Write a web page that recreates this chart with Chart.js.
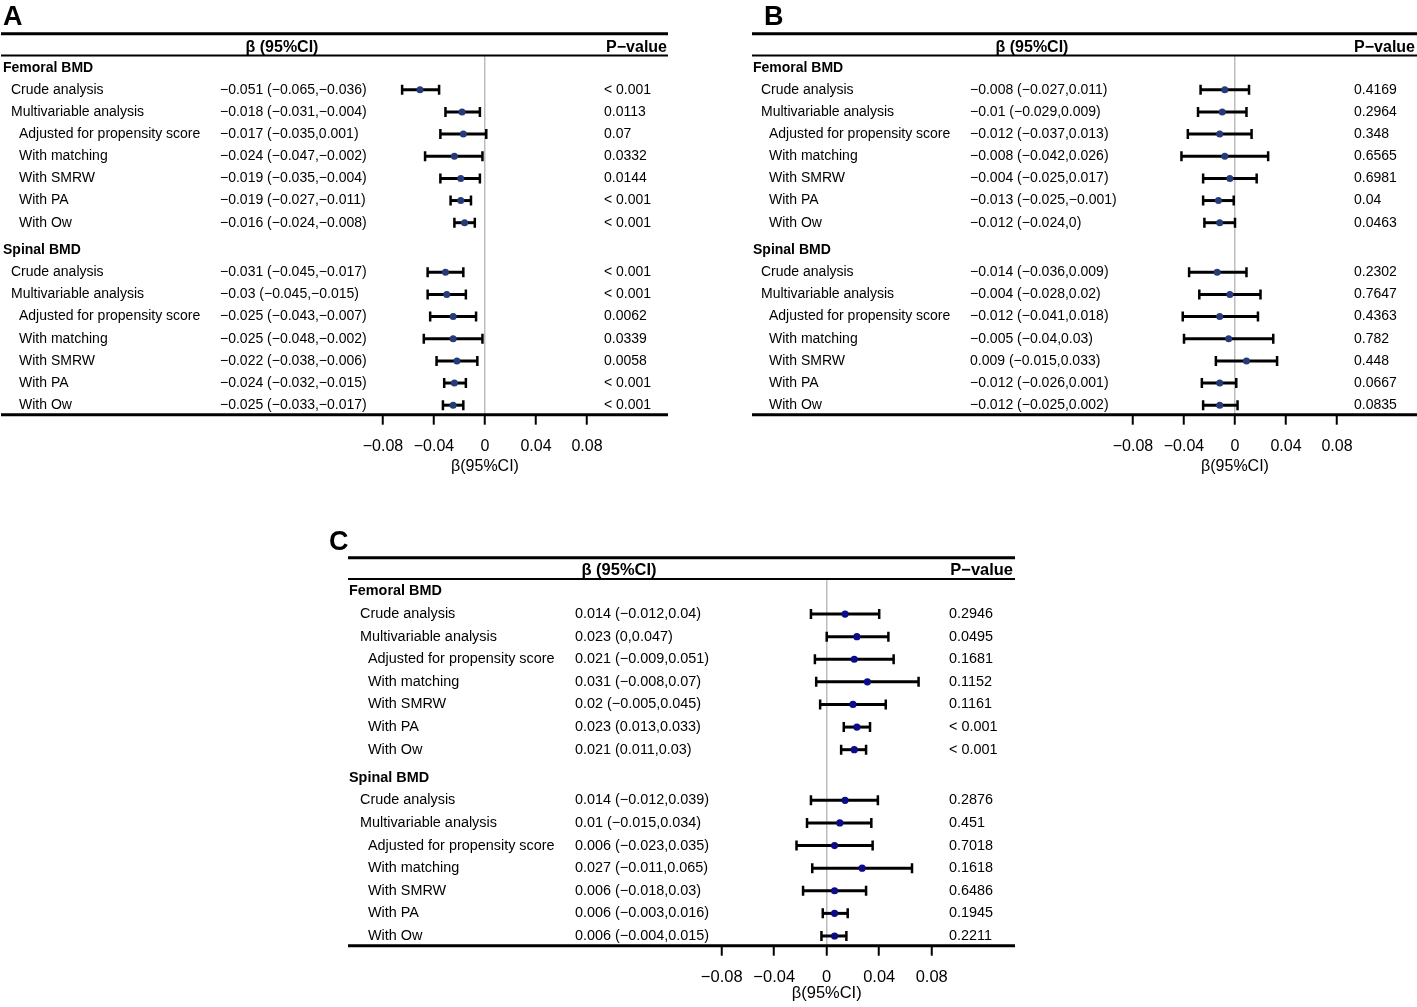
<!DOCTYPE html>
<html>
<head>
<meta charset="utf-8">
<script src="https://cdn.jsdelivr.net/npm/chart.js@4.4.0/dist/chart.umd.min.js"></script>
<style>
  html, body { margin: 0; padding: 0; background: #fff; }
  #page { position: relative; width: 1417px; height: 1007px; overflow: hidden; }
  .panel { position: absolute; }
</style>
</head>
<body>
<div id="page">
  <div class="panel" style="left:0;top:0;width:700px;height:490px"><canvas id="chartA"></canvas></div>
  <div class="panel" style="left:750px;top:0;width:667px;height:490px"><canvas id="chartB"></canvas></div>
  <div class="panel" style="left:320px;top:520px;width:720px;height:487px"><canvas id="chartC"></canvas></div>
</div>
<script>
// ---- data ----
const GROUPS = ["Femoral BMD", "Spinal BMD"];
const ROWS = ["Crude analysis", "Multivariable analysis", "Adjusted for propensity score",
  "With matching", "With SMRW", "With PA", "With Ow"];
const ROW_INDENT = [1, 1, 2, 2, 2, 2, 2];
const TICKS = [-0.08, -0.04, 0, 0.04, 0.08];
const TICK_LABELS = ["\u22120.08", "\u22120.04", "0", "0.04", "0.08"];
const AXIS_TITLE = "\u03b2(95%CI)";
const COL_HEADERS = ["\u03b2 (95%CI)", "P\u2212value"];

// panel A (femoral rows then spinal rows)
const A_BETA = [-0.051, -0.018, -0.017, -0.024, -0.019, -0.019, -0.016,
  -0.031, -0.03, -0.025, -0.025, -0.022, -0.024, -0.025];
const A_LOW = [-0.065, -0.031, -0.035, -0.047, -0.035, -0.027, -0.024,
  -0.045, -0.045, -0.043, -0.048, -0.038, -0.032, -0.033];
const A_HIGH = [-0.036, -0.004, 0.001, -0.002, -0.004, -0.011, -0.008,
  -0.017, -0.015, -0.007, -0.002, -0.006, -0.015, -0.017];
const A_P = ["< 0.001", "0.0113", "0.07", "0.0332", "0.0144", "< 0.001", "< 0.001",
  "< 0.001", "< 0.001", "0.0062", "0.0339", "0.0058", "< 0.001", "< 0.001"];

// panel B
const B_BETA = [-0.008, -0.01, -0.012, -0.008, -0.004, -0.013, -0.012,
  -0.014, -0.004, -0.012, -0.005, 0.009, -0.012, -0.012];
const B_LOW = [-0.027, -0.029, -0.037, -0.042, -0.025, -0.025, -0.024,
  -0.036, -0.028, -0.041, -0.04, -0.015, -0.026, -0.025];
const B_HIGH = [0.011, 0.009, 0.013, 0.026, 0.017, -0.001, 0,
  0.009, 0.02, 0.018, 0.03, 0.033, 0.001, 0.002];
const B_P = ["0.4169", "0.2964", "0.348", "0.6565", "0.6981", "0.04", "0.0463",
  "0.2302", "0.7647", "0.4363", "0.782", "0.448", "0.0667", "0.0835"];

// panel C
const C_BETA = [0.014, 0.023, 0.021, 0.031, 0.02, 0.023, 0.021,
  0.014, 0.01, 0.006, 0.027, 0.006, 0.006, 0.006];
const C_LOW = [-0.012, 0, -0.009, -0.008, -0.005, 0.013, 0.011,
  -0.012, -0.015, -0.023, -0.011, -0.018, -0.003, -0.004];
const C_HIGH = [0.04, 0.047, 0.051, 0.07, 0.045, 0.033, 0.03,
  0.039, 0.034, 0.035, 0.065, 0.03, 0.016, 0.015];
const C_P = ["0.2946", "0.0495", "0.1681", "0.1152", "0.1161", "< 0.001", "< 0.001",
  "0.2876", "0.451", "0.7018", "0.1618", "0.6486", "0.1945", "0.2211"];

// ---- layout ----
const FONT = "'Liberation Sans', Arial, Helvetica, sans-serif";
const GROUP_GAP = 0.24;

// row index on the y scale: header of group g, or item i of group g
function rowPos(g, i) {
  return g * (ROWS.length + 1 + GROUP_GAP) + (i < 0 ? 0 : i + 1);
}

function fmt(v) {
  return String(v).replace("-", "\u2212");
}

const forestPlugin = {
  id: "forest",
  beforeDatasetsDraw(chart, args, o) {
    const { ctx, scales: { x, y } } = chart;
    ctx.save();
    ctx.strokeStyle = "#000";
    o.low.forEach((lo, k) => {
      const py = y.getPixelForValue(rowPos(Math.floor(k / ROWS.length), k % ROWS.length));
      const x1 = x.getPixelForValue(lo);
      const x2 = x.getPixelForValue(o.high[k]);
      ctx.lineWidth = 3;
      ctx.beginPath();
      ctx.moveTo(x1, py); ctx.lineTo(x2, py);
      ctx.stroke();
      ctx.lineWidth = 2.5;
      ctx.beginPath();
      ctx.moveTo(x1, py - 5); ctx.lineTo(x1, py + 5);
      ctx.moveTo(x2, py - 5); ctx.lineTo(x2, py + 5);
      ctx.stroke();
    });
    ctx.restore();
  },
  afterDraw(chart, args, o) {
    const { ctx, chartArea, scales: { y } } = chart;
    const L = o.layout;
    const s = L.scale;
    ctx.save();
    ctx.fillStyle = "#000";
    ctx.strokeStyle = "#000";

    // rules
    ctx.lineWidth = 3;
    ctx.beginPath();
    ctx.moveTo(L.ruleLeft, L.ruleTop); ctx.lineTo(L.ruleRight, L.ruleTop);
    ctx.moveTo(L.ruleLeft, chartArea.bottom); ctx.lineTo(L.ruleRight, chartArea.bottom);
    ctx.stroke();
    ctx.lineWidth = 2;
    ctx.beginPath();
    ctx.moveTo(L.ruleLeft, chartArea.top); ctx.lineTo(L.ruleRight, chartArea.top);
    ctx.stroke();

    // panel letter
    ctx.font = "bold " + L.letterSize + "px " + FONT;
    ctx.textBaseline = "alphabetic";
    ctx.textAlign = "left";
    ctx.fillText(L.letter, L.letterX, L.letterY);

    // column headers
    ctx.font = "bold " + (16 * s) + "px " + FONT;
    ctx.textAlign = "center";
    ctx.fillText(COL_HEADERS[0], L.xHeadBeta, chartArea.top - 4);
    ctx.textAlign = "right";
    ctx.fillText(COL_HEADERS[1], L.xHeadP, chartArea.top - 4);

    // rows
    ctx.textBaseline = "middle";
    ctx.textAlign = "left";
    GROUPS.forEach((gName, g) => {
      ctx.font = "bold " + (14 * s) + "px " + FONT;
      ctx.fillText(gName, L.xGroup, y.getPixelForValue(rowPos(g, -1)));
      ctx.font = (14 * s) + "px " + FONT;
      ROWS.forEach((r, i) => {
        const k = g * ROWS.length + i;
        const py = y.getPixelForValue(rowPos(g, i));
        ctx.fillText(r, L.xLevel[ROW_INDENT[i] - 1], py);
        ctx.fillText(fmt(o.beta[k]) + " (" + fmt(o.low[k]) + "," + fmt(o.high[k]) + ")", L.xBeta, py);
        ctx.fillText(o.p[k], L.xP, py);
      });
    });
    ctx.restore();
  }
};

function makePanel(id, L, beta, low, high, p) {
  const points = beta.map((b, k) => ({
    x: b,
    y: rowPos(Math.floor(k / ROWS.length), k % ROWS.length)
  }));
  const areaLeft = L.zero + L.xMin * L.pxPerUnit;
  const areaRight = L.zero + L.xMax * L.pxPerUnit;
  return new Chart(document.getElementById(id), {
    type: "scatter",
    data: {
      datasets: [{
        data: points,
        pointRadius: L.dotRadius,
        pointBackgroundColor: L.dot,
        pointBorderColor: L.dot,
        pointBorderWidth: 0
      }]
    },
    options: {
      responsive: true,
      maintainAspectRatio: false,
      animation: false,
      events: [],
      layout: {
        padding: {
          left: areaLeft,
          right: L.width - areaRight,
          top: L.top,
          bottom: L.height - L.bottom - L.axisHeight
        }
      },
      plugins: {
        legend: { display: false },
        tooltip: { enabled: false },
        forest: { layout: L, beta: beta, low: low, high: high, p: p }
      },
      scales: {
        x: {
          type: "linear",
          position: "bottom",
          min: L.xMin,
          max: L.xMax,
          afterBuildTicks: sc => { sc.ticks = TICKS.map(v => ({ value: v })); },
          afterFit: sc => { sc.height = L.axisHeight; },
          border: { display: false },
          grid: {
            drawOnChartArea: true,
            drawTicks: true,
            tickLength: 10,
            tickWidth: 2,
            tickColor: "#000",
            lineWidth: 1.5,
            color: c => (c.tick && c.tick.value === 0 ? "#bdbdbd" : "rgba(0,0,0,0)")
          },
          ticks: {
            autoSkip: false,
            maxRotation: 0,
            padding: L.tickPad,
            color: "#000",
            font: { family: FONT, size: 16 * L.scale },
            callback: (v, i) => TICK_LABELS[i]
          },
          title: {
            display: true,
            text: AXIS_TITLE,
            color: "#000",
            font: { family: FONT, size: 16 * L.scale },
            padding: { top: 0, bottom: 0 }
          }
        },
        y: {
          type: "linear",
          reverse: true,
          display: false,
          min: -0.55,
          max: 15.67
        }
      }
    },
    plugins: [forestPlugin]
  });
}

const LAYOUT_AB = {
  width: 700, height: 490, zero: 485, pxPerUnit: 1275, xMin: -0.1, xMax: 0.1,
  top: 55.5, bottom: 414.7, axisHeight: 61, tickPad: 12.4,
  ruleTop: 33.8, ruleLeft: 1, ruleRight: 668,
  xGroup: 3, xLevel: [11, 19], xBeta: 220, xP: 604, xHeadBeta: 282, xHeadP: 667,
  letterX: 3, letterY: 25, letterSize: 27, scale: 1, dot: "#263c7a", dotRadius: 3.5
};

makePanel("chartA", Object.assign({}, LAYOUT_AB, { letter: "A" }), A_BETA, A_LOW, A_HIGH, A_P);
makePanel("chartB", Object.assign({}, LAYOUT_AB, { letter: "B", width: 667, ruleLeft: 2, ruleRight: 667, xHeadP: 665, letterX: 14 }),
  B_BETA, B_LOW, B_HIGH, B_P);
makePanel("chartC", {
  letter: "C", width: 720, height: 487, zero: 506.7, pxPerUnit: 1312.5, xMin: -0.1, xMax: 0.1,
  top: 59, bottom: 425.7, axisHeight: 58, tickPad: 11.7,
  ruleTop: 37.7, ruleLeft: 28, ruleRight: 695,
  xGroup: 29, xLevel: [40, 48], xBeta: 255, xP: 629, xHeadBeta: 299, xHeadP: 693,
  letterX: 9, letterY: 30, letterSize: 27, scale: 1.03, dot: "#0b0b8c", dotRadius: 3.6
}, C_BETA, C_LOW, C_HIGH, C_P);
</script>
</body>
</html>
